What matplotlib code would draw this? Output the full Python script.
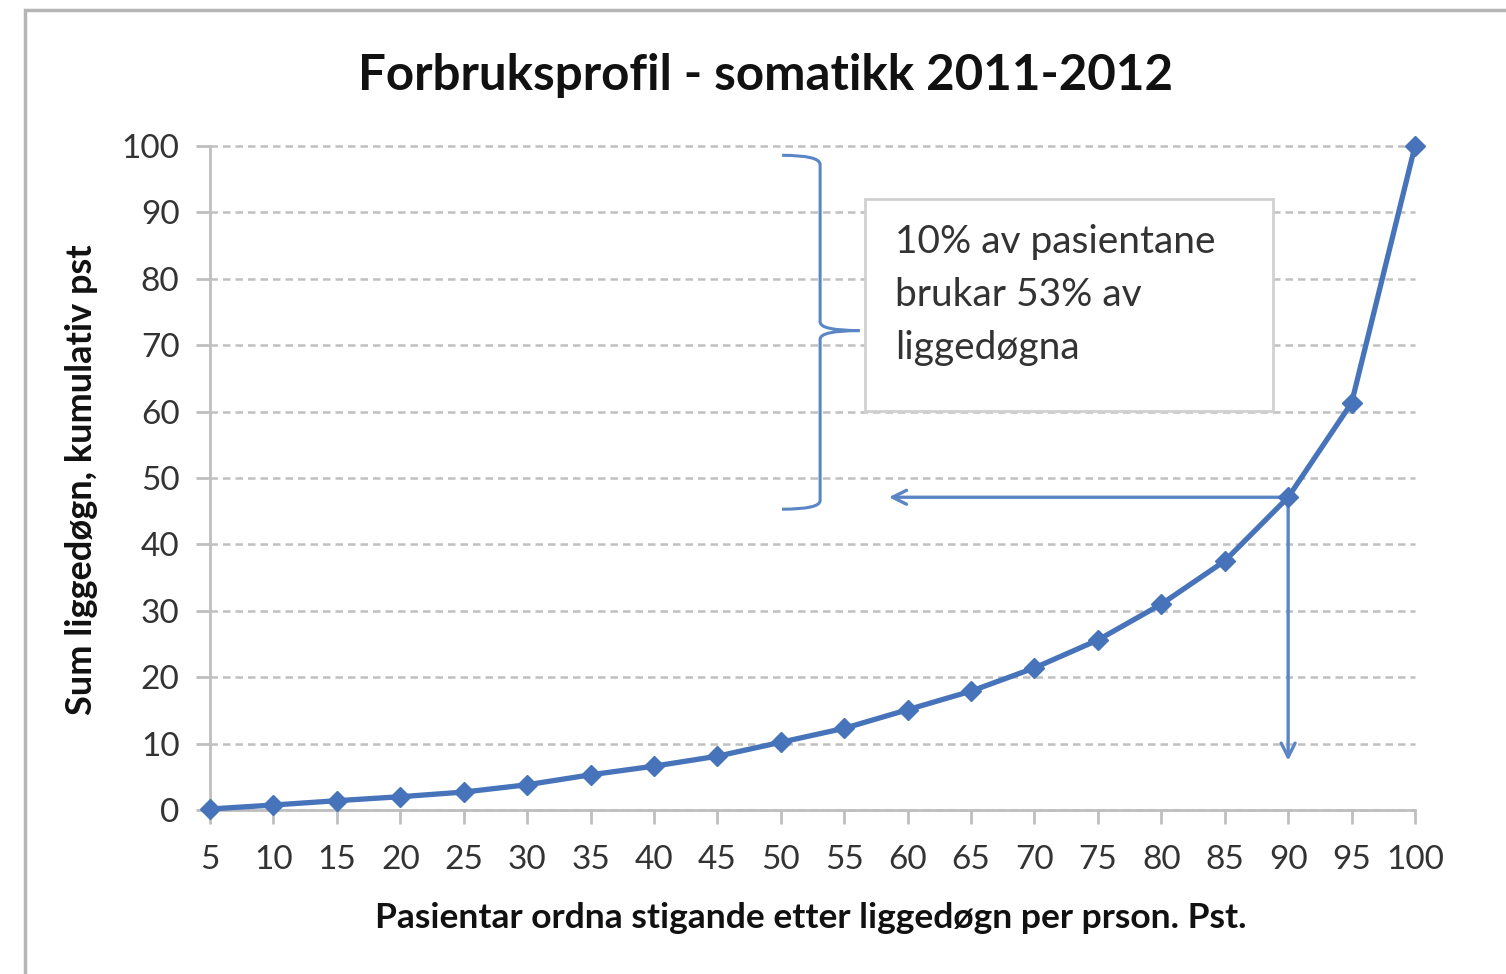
import matplotlib.pyplot as plt
from matplotlib.patches import Rectangle
from matplotlib.path import Path
from matplotlib.patches import PathPatch

# data
pct_patients = [5, 10, 15, 20, 25, 30, 35, 40, 45, 50, 55, 60, 65, 70, 75, 80, 85, 90, 95, 100]
cum_days = [0.15, 0.75, 1.4, 2.0, 2.7, 3.8, 5.3, 6.6, 8.1, 10.2, 12.3, 15.1, 17.9, 21.4, 25.6, 31.0, 37.5, 47.1, 61.3, 100]
y_ticks = [0, 10, 20, 30, 40, 50, 60, 70, 80, 90, 100]

title = "Forbruksprofil - somatikk 2011-2012"
xlabel = "Pasientar ordna stigande etter liggedøgn per prson. Pst."
ylabel = "Sum liggedøgn, kumulativ pst"
note_lines = ["10% av pasientane", "brukar 53% av", "liggedøgna"]

blue = '#4673b9'
arrow_c = '#5b86c5'
grid_c = '#c0c0c0'
plt.rcParams['font.family'] = ['Lato', 'DejaVu Sans']

fig = plt.figure(figsize=(15.06, 9.74), dpi=100)
fig.patches.append(Rectangle((25/1506, -0.01), 1.1, 1 - 10/974 + 0.01, transform=fig.transFigure,
                             fill=False, edgecolor='#b5b5b5', linewidth=2.5))

ax = fig.add_axes([210/1506, 1 - 810/974, 1205/1506, 664/974])
ax.plot(pct_patients, cum_days, color=blue, linewidth=3.8, marker='D', markersize=10.5,
        markeredgecolor=blue, zorder=5, clip_on=False)

ax.set_xlim(5, 100)
ax.set_ylim(0, 100)
ax.set_xticks(pct_patients)
ax.set_yticks(y_ticks)
ax.tick_params(axis='both', labelsize=24, colors='#bfbfbf', labelcolor='#333333', length=10, width=2)
ax.tick_params(axis='x', pad=15)
ax.tick_params(axis='y', pad=12)
for s in ['top', 'right']:
    ax.spines[s].set_visible(False)
for s in ['left', 'bottom']:
    ax.spines[s].set_color('#bfbfbf')
    ax.spines[s].set_linewidth(2)
ax.yaxis.grid(True, color=grid_c, linestyle=(0, (3, 2)), linewidth=1.8)
ax.set_axisbelow(True)
for gl in ax.get_ygridlines():
    gl.set_clip_on(False)

fig.text(766/1506, 1 - 75/974, title, ha='center', va='center', fontsize=35.5, fontweight='bold', color='#111111')
fig.text(811/1506, 1 - 918/974, xlabel, ha='center', va='center', fontsize=25.5, fontweight='bold', color='#111111')
fig.text(82/1506, 1 - 480/974, ylabel, ha='center', va='center', rotation=90, fontsize=26,
         fontweight='bold', color='#111111')

# annotation box
ax.add_patch(Rectangle((56.6, 60.1), 32.2, 31.9, facecolor='white', edgecolor='#d0d0d0',
                       linewidth=2, zorder=4))
for i, line in enumerate(note_lines):
    ax.text(59.0, 85.5 - 7.95 * i, line, ha='left', va='center', fontsize=28, color='#333333', zorder=6)

# arrows from the 90 point
x90 = pct_patients[17]
y90 = cum_days[17]
ax.annotate('', xy=(58.3, y90), xytext=(x90, y90),
            arrowprops=dict(arrowstyle='->,head_length=1.0,head_width=0.5', color=arrow_c, lw=2.4))
ax.annotate('', xy=(x90, 7.0), xytext=(x90, y90),
            arrowprops=dict(arrowstyle='->,head_length=1.0,head_width=0.5', color=arrow_c, lw=2.4))

# curly bracket
verts = [(50.1, 98.6), (53.1, 98.6), (53.1, 97.2),
         (53.1, 73.5), (53.1, 72.2), (56.2, 72.2),
         (53.1, 72.2), (53.1, 70.9), (53.1, 46.6),
         (53.1, 45.3), (50.1, 45.3)]
codes = [Path.MOVETO, Path.CURVE3, Path.CURVE3,
         Path.LINETO, Path.CURVE3, Path.CURVE3,
         Path.CURVE3, Path.CURVE3, Path.LINETO,
         Path.CURVE3, Path.CURVE3]
ax.add_patch(PathPatch(Path(verts, codes), fill=False, edgecolor=arrow_c, linewidth=2.2))

fig.savefig('out.png', dpi=100)
